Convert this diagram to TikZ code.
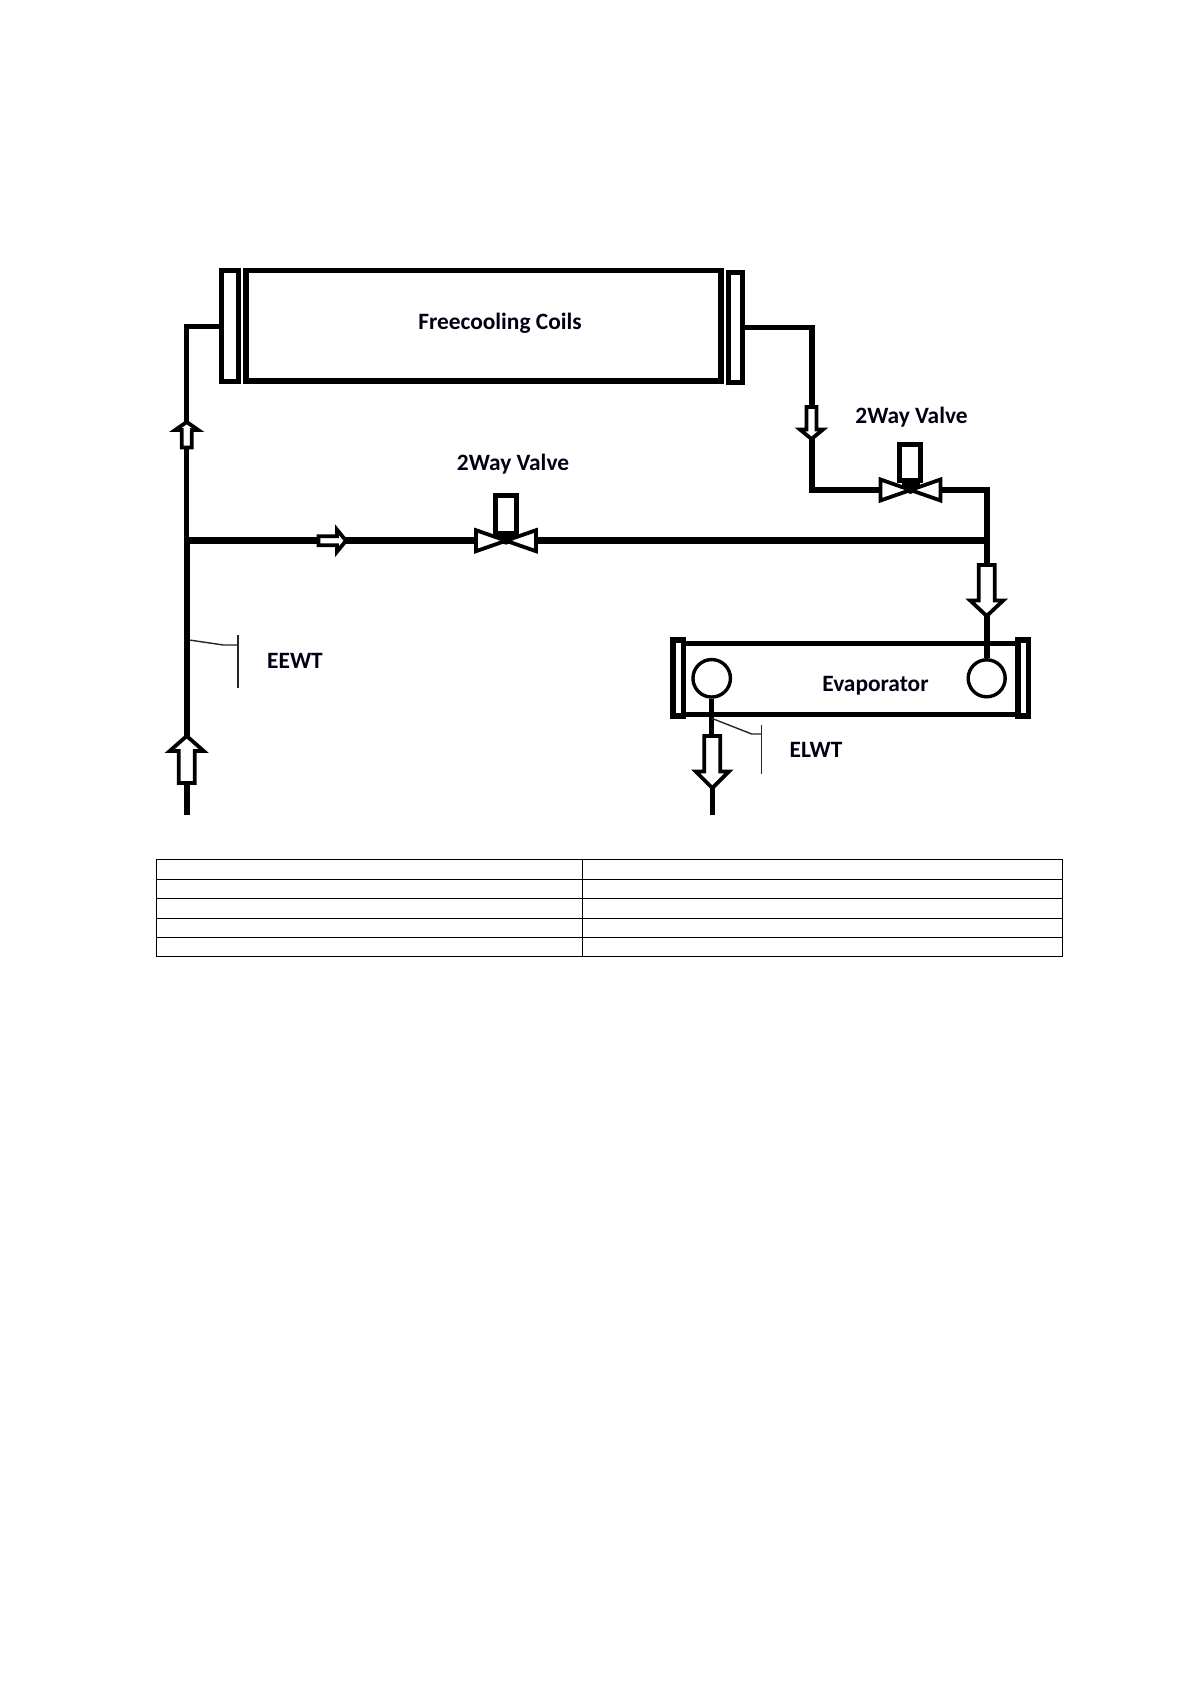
\documentclass[tikz,border=0pt]{standalone}
\usepackage{fontspec}
\setmainfont{Carlito}
\newcommand{\flowarrowB}[7]{% x, y, angle, length, shaft half, head half, head length
  \begin{scope}[shift={(#1,#2)},rotate=#3]
    \draw[arrowline,fill=white] (0,0) -- (-#7,#6) -- (-#7,#5) -- (-#4,#5) -- (-#4,-#5) -- (-#7,-#5) -- (-#7,-#6) -- cycle;
  \end{scope}}
\newcommand{\valvesym}[2]{% centre x, centre y
  \draw[bowtie] (#1,#2) -- (#1-30,#2-10.5) -- (#1-30,#2+10.5) -- cycle;
  \draw[bowtie] (#1,#2) -- (#1+30,#2-10.5) -- (#1+30,#2+10.5) -- cycle;
  \fill (#1-9,#2-7) rectangle (#1+9,#2-3);
  \fill (#1,#2) circle (4);}
\tikzset{
  x=1pt,y=-1pt,
  box/.style={draw=black,fill=white,rectangle,inner sep=0pt,line width=#1},
  box/.default=5pt,
  pipe/.style={draw=black,line width=5.2pt,line cap=butt,line join=miter},
  mainpipe/.style={draw=black,line width=7pt},
  arrowline/.style={draw=black,line width=3.8pt,line join=miter},
  bowtie/.style={draw=black,fill=white,line width=3.8pt,line join=miter},
  sensor/.style={draw=black!85,line width=1.4pt},
  label/.style={font=\bfseries\fontsize{23.4}{26}\selectfont,text=black!92!blue,inner sep=0pt,anchor=base},
  coilbox/.style={box=5.5pt,anchor=center},
  cell/.style={draw=black,line width=1.1pt},
}
\begin{document}
\begin{tikzpicture}
\useasboundingbox[fill=white] (0,0) rectangle (1190,1684);

% coil + headers
\node[box=5pt,minimum width=17pt,minimum height=111pt] (hl) at (230,326.2) {};
\node[coilbox,minimum width=475pt,minimum height=110.5pt] (coil) at (483.5,325.8) {};
\fill (243,268) rectangle (249.3,384);
\node[box=5pt,minimum width=14.5pt,minimum height=110pt] (hr) at (735.5,327) {};
\node[label] (tcoil) at (500,329.7) {Freecooling Coils};

% coordinates
\coordinate (inlet) at (186.7,815);
\coordinate (jn) at (186.7,540.7);
\coordinate (lt) at (186.7,326.5);
\coordinate (rb) at (812,327.7);
\coordinate (rv) at (812,490);
\coordinate (v2) at (910.5,490);
\coordinate (rd) at (987,490);
\coordinate (rj) at (987,540.7);
\coordinate (v1) at (506,540.7);

% evaporator
\node[box=5.5pt,minimum width=10pt,minimum height=76pt] (capl) at (678.3,678.2) {};
\fill (670,637.3) rectangle (676,719);
\node[box=5.5pt,minimum width=10.5pt,minimum height=76pt] (capr) at (1023.2,678.2) {};
\fill (1015.7,637.3) rectangle (1020,719);
\draw[draw=black,line width=5.4pt] (capl.east |- 0,643.5) -- (capr.west |- 0,643.5);
\draw[draw=black,line width=5.4pt] (capl.east |- 0,714.5) -- (capr.west |- 0,714.5);
\node[draw=black,fill=white,circle,line width=3.4pt,inner sep=0pt,minimum size=37.5pt] (cl) at (711.7,678.3) {};
\node[draw=black,fill=white,circle,line width=3.4pt,inner sep=0pt,minimum size=37pt] (cr) at (986.7,678.3) {};
\node[label] (tevap) at (875.5,691.7) {Evaporator};

% pipes
\draw[pipe,line width=6pt] (inlet) -- (jn);
\draw[pipe] (jn) -- (lt) -- (hl.west |- lt);
\draw[mainpipe] (jn) -- (rj);
\draw[pipe] (hr.east |- rb) -- (rb) -- (rv) -- (v2) -- (rd) -- (rj) -- (cr.north -| rj);
\draw[pipe,line width=4.5pt] (cl.south) -- (cl.south |- 0,760);
\coordinate (outlet) at (712.7,815);
\draw[pipe,line width=4.5pt] (outlet) -- (712.7,780);

% valves
\node[box=5pt,minimum width=21pt,minimum height=38pt] (vb1) at (506.3,514) {};
\valvesym{506}{540.7}
\node[label] (tv1) at (513,470) {2Way Valve};
\node[box=5pt,minimum width=21pt,minimum height=36pt] (vb2) at (910.3,462) {};
\valvesym{910.5}{490}
\node[label] (tv2) at (911.5,423.7) {2Way Valve};

% flow arrows
\flowarrowB{186.7}{736}{90}{47}{8}{17}{15}
\flowarrowB{186.7}{422}{90}{25.5}{5}{11.5}{8}
\flowarrowB{346}{540.7}{0}{27.5}{4.5}{11}{9}
\flowarrowB{811.5}{439}{-90}{32}{5}{11.5}{9.5}
\flowarrowB{986.7}{616}{-90}{51}{8}{16.5}{15.5}
\flowarrowB{712.3}{788}{-90}{52}{8}{16.5}{16.5}

% sensors
\coordinate (es) at (189.3,640);
\draw[sensor] (238,635) -- (238,688.3);
\draw[sensor] (es) -- (223.3,645) -- (238,645);
\coordinate (ls) at (711.7,718.3);
\draw[sensor] (761.7,725) -- (761.7,774);
\draw[sensor] (ls) -- (751.7,734) -- (761.7,734);
\node[label] (teewt) at (295,668.7) {EEWT};
\node[label] (telwt) at (816,757.7) {ELWT};

% table
\draw[cell] (156.7,859.3) rectangle (1062.2,956.3);
\foreach \yy in {879.3,898.3,918.3,937.3} \draw[cell] (156.7,\yy) -- (1062.2,\yy);
\draw[cell] (582.5,859.3) -- (582.5,956.3);
\end{tikzpicture}
\end{document}
